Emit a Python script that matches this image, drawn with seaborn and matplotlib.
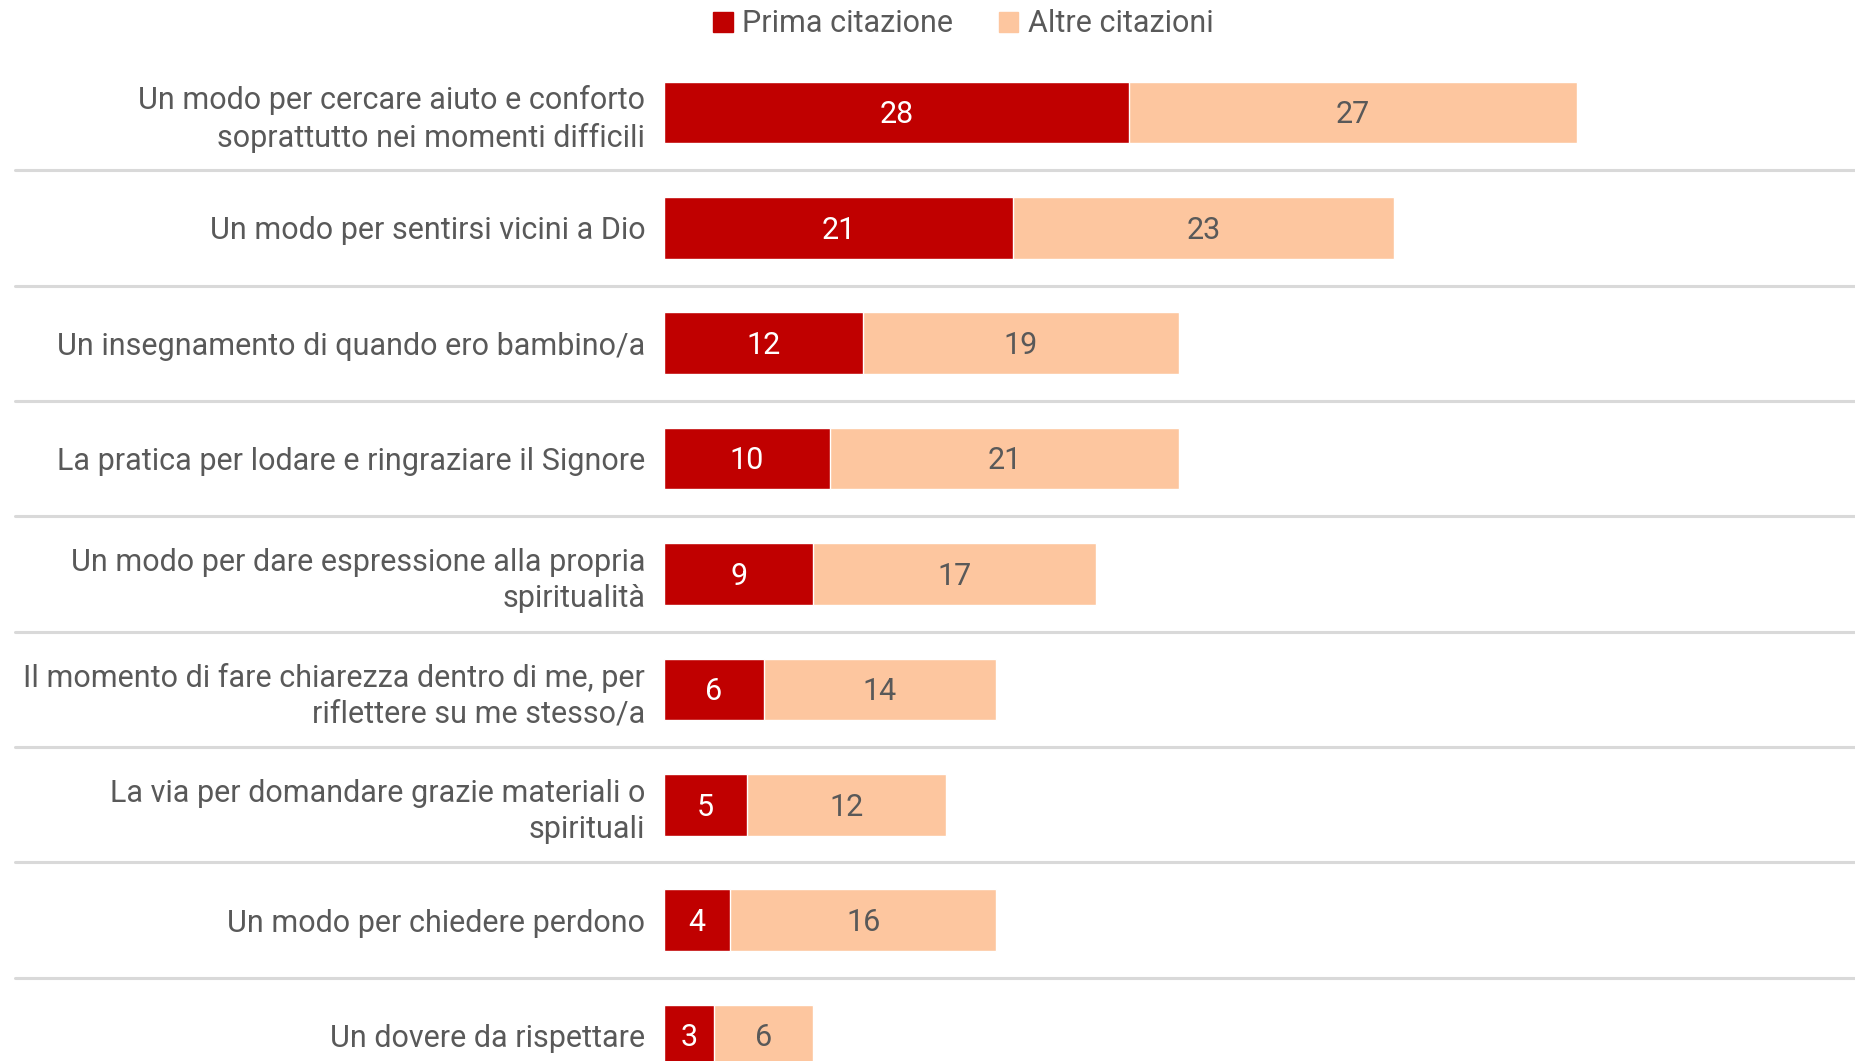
import pandas as pd
import matplotlib
matplotlib.use("Agg")
import matplotlib.pyplot as plt
from matplotlib.patches import Patch
import seaborn as sns

# ------------------------------------------
# Data
# ------------------------------------------
categorie = [
    "Un modo per cercare aiuto e conforto\nsoprattutto nei momenti difficili",
    "Un modo per sentirsi vicini a Dio",
    "Un insegnamento di quando ero bambino/a",
    "La pratica per lodare e ringraziare il Signore",
    "Un modo per dare espressione alla propria\nspiritualità",
    "Il momento di fare chiarezza dentro di me, per\nriflettere su me stesso/a",
    "La via per domandare grazie materiali o\nspirituali",
    "Un modo per chiedere perdono",
    "Un dovere da rispettare",
]
prima_citazione = [28, 21, 12, 10, 9, 6, 5, 4, 3]
altre_citazioni = [27, 23, 19, 21, 17, 14, 12, 16, 6]

ROSSO = "#C00000"
PESCA = "#FDC69F"
GRIGIO = "#595959"

df = pd.DataFrame({
    "categoria": categorie,
    "prima": prima_citazione,
    "altre": altre_citazioni,
})
df["totale"] = df["prima"] + df["altre"]

sns.set_style("white")
plt.rcParams["font.family"] = ["Roboto", "DejaVu Sans"]

W, H = 1856, 1061
fig = plt.figure(figsize=(W / 100, H / 100), dpi=100)
x0 = 664
ax = fig.add_axes([x0 / W, 0, 1 - x0 / W, 1])

# stacked bars: totals (peach) first, then first-citation on top (red)
sns.barplot(data=df, x="totale", y="categoria", color=PESCA, width=0.533,
            saturation=1, ax=ax, orient="h")
sns.barplot(data=df, x="prima", y="categoria", color=ROSSO, width=0.533,
            saturation=1, ax=ax, orient="h")

px_unit = 913 / 55
ax.set_xlim(0, (W - x0) / px_unit)
row = 115.4
ax.set_ylim((H - 112.4) / row, -112.4 / row)

fs = 22
for i, r in df.iterrows():
    ax.text(r["prima"] / 2, i + 0.02, str(r["prima"]), color="white",
            ha="center", va="center", fontsize=fs)
    ax.text(r["prima"] + r["altre"] / 2, i + 0.02, str(r["altre"]),
            color=GRIGIO, ha="center", va="center", fontsize=fs)

# separators between rows
for i in range(len(df) - 1):
    ax.axhline(i + 0.5, xmin=(15 - x0) / (W - x0), xmax=1, color="#D9D9D9",
               linewidth=2.2, clip_on=False)

ax.set_xlabel("")
ax.set_ylabel("")
ax.set_xticks([])
ax.tick_params(axis="y", length=0, pad=13.5, labelsize=fs, labelcolor=GRIGIO)
for lbl in ax.get_yticklabels():
    lbl.set_linespacing(1.3)
sns.despine(ax=ax, left=True, bottom=True)

handles = [Patch(color=ROSSO, label="Prima citazione"),
           Patch(color=PESCA, label="Altre citazioni")]
fig.legend(handles=handles, loc="center", bbox_to_anchor=(963 / W, 1 - 24 / H),
           ncol=2, frameon=False, fontsize=fs, labelcolor=GRIGIO,
           handlelength=0.65, handleheight=0.65, handletextpad=0.3,
           columnspacing=1.5)

fig.savefig("out.png", dpi=100)
